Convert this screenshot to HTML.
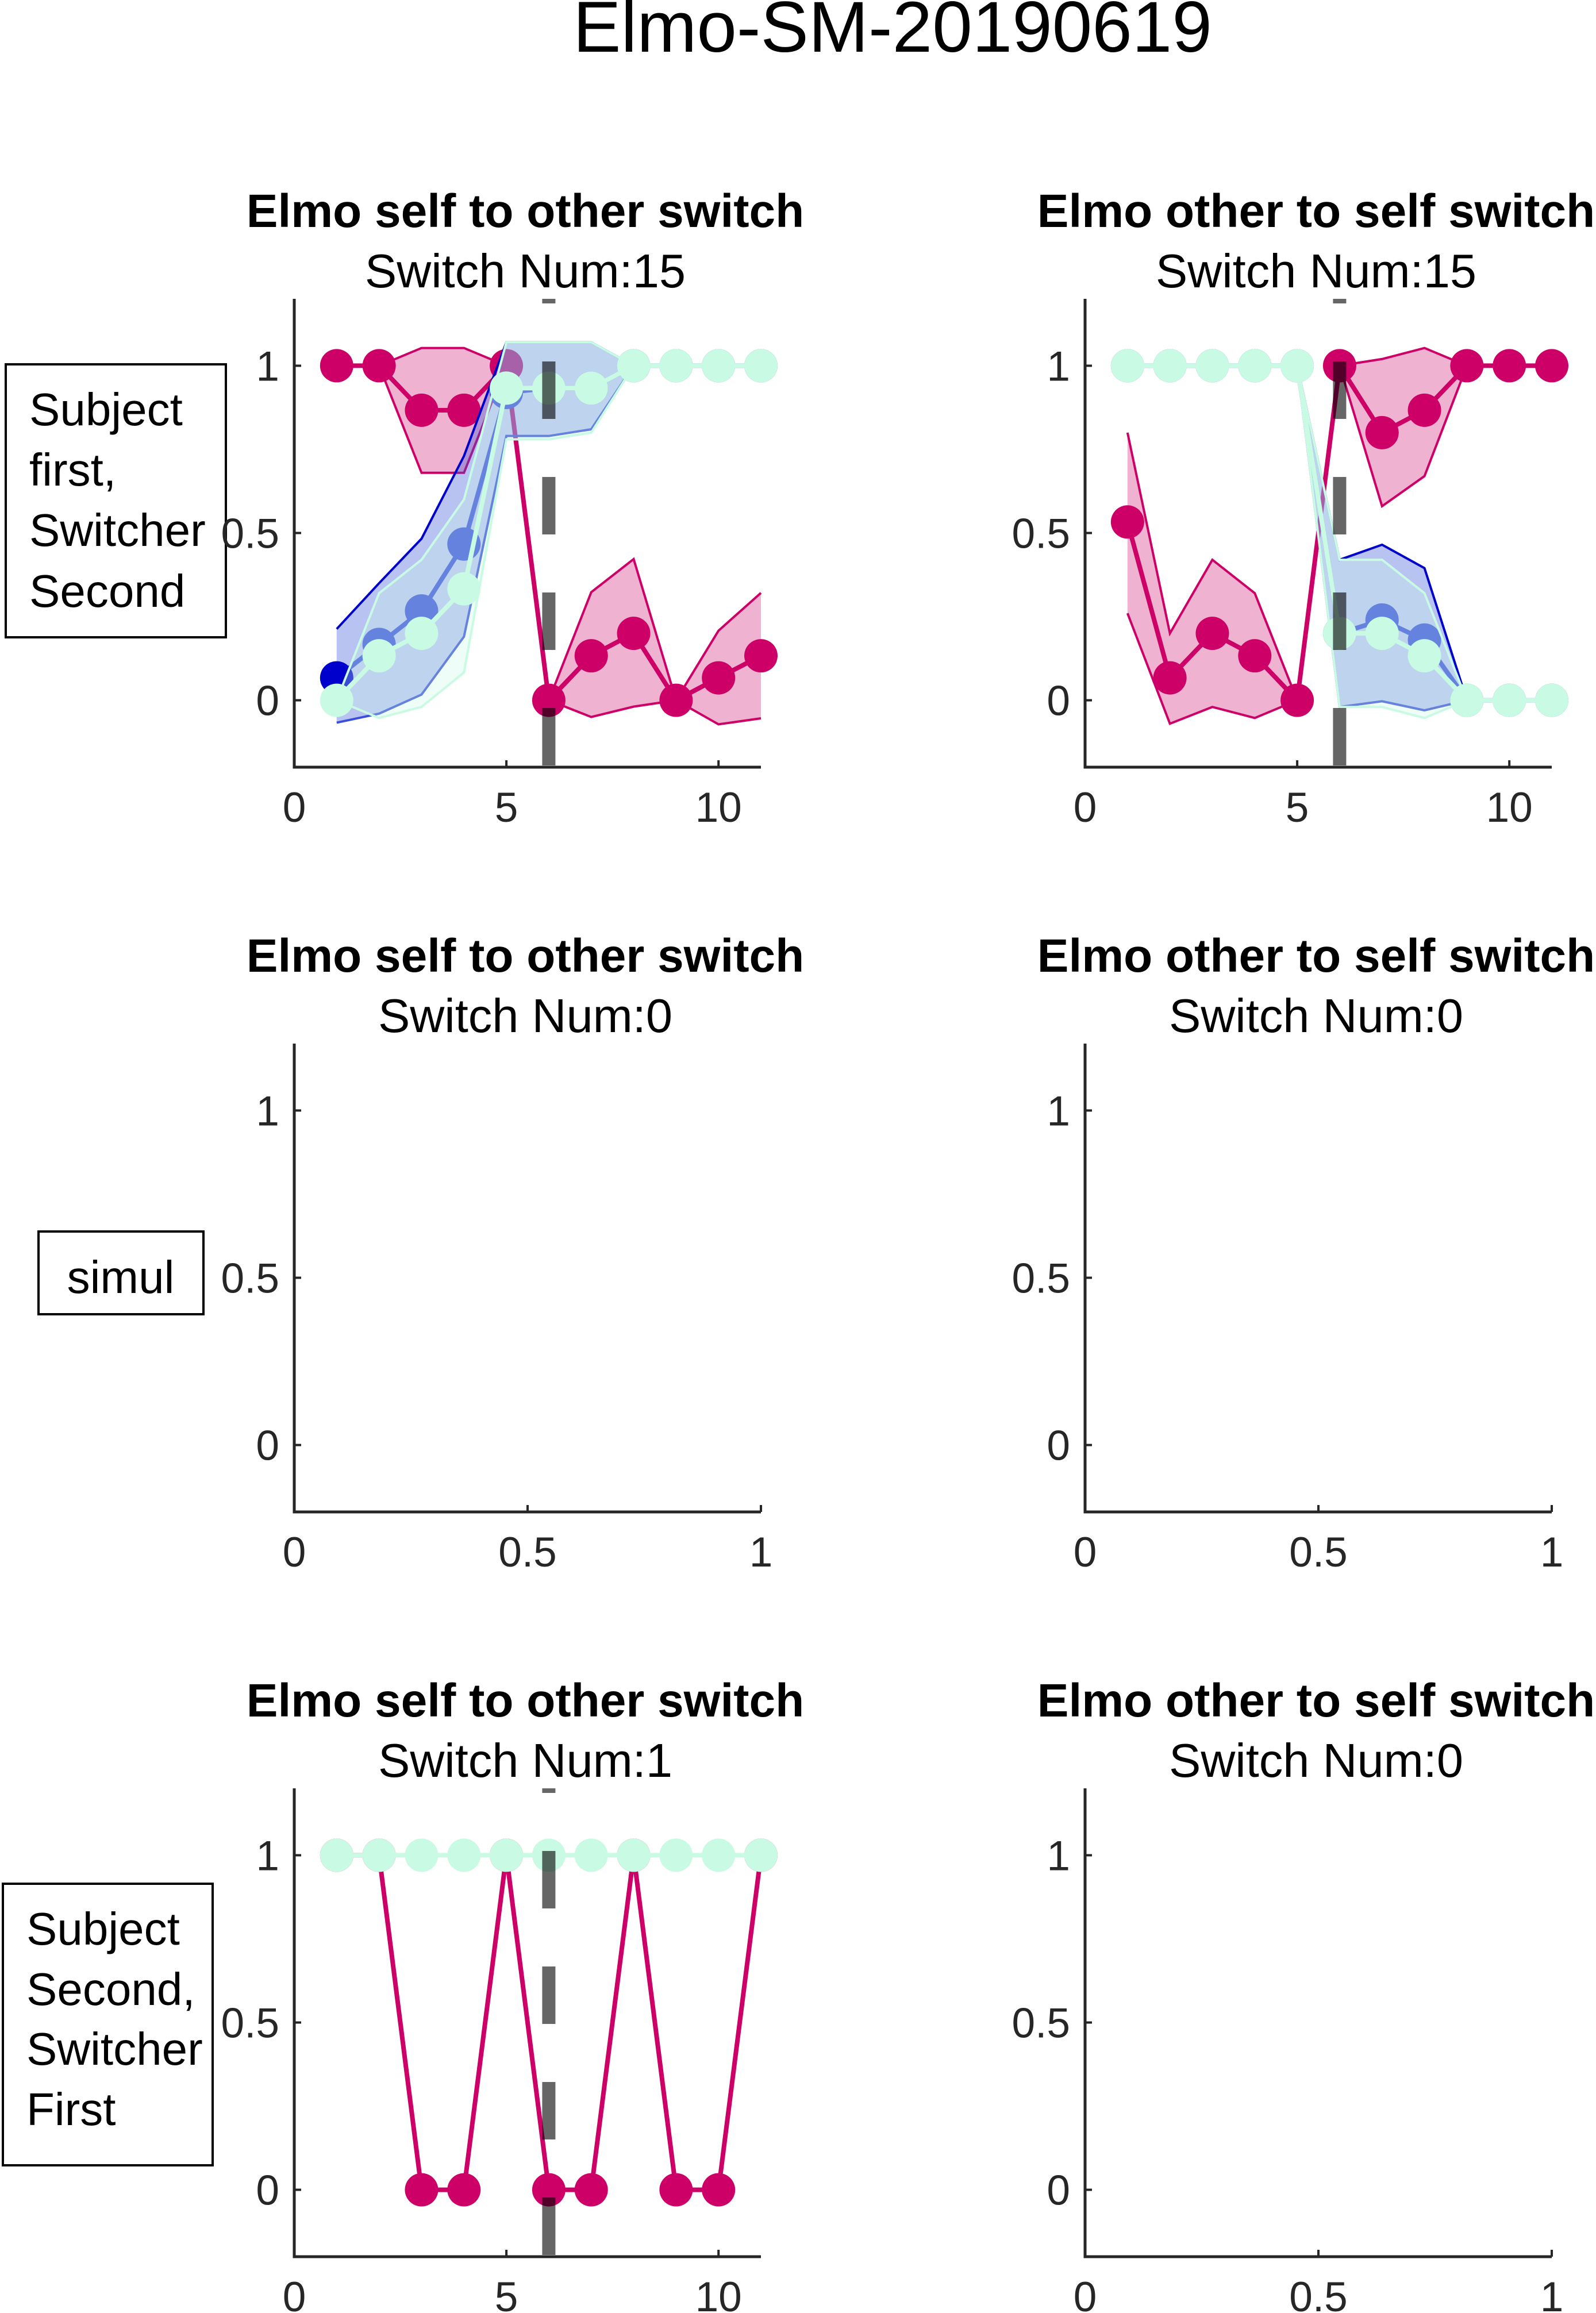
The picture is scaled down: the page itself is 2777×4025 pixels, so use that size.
<!DOCTYPE html>
<html><head><meta charset="utf-8"><style>
html,body{margin:0;padding:0;background:#fff;}
svg{display:block;font-family:"Liberation Sans",Arial,sans-serif;}
</style></head><body>
<svg id="fig" width="2777" height="4025" viewBox="0 0 2777 4025" xmlns="http://www.w3.org/2000/svg">
<text x="1553" y="90" font-size="125" text-anchor="middle" fill="#000">Elmo-SM-20190619</text>
<g>
<rect x="10" y="634" width="383" height="475" fill="#fff" stroke="#000" stroke-width="4"/>
<text font-size="80" fill="#000"><tspan x="51" y="740">Subject</tspan><tspan x="51" y="845">first,</tspan><tspan x="51" y="950">Switcher</tspan><tspan x="51" y="1056">Second</tspan></text>
</g>
<g>
<rect x="67" y="2143" width="287" height="144" fill="#fff" stroke="#000" stroke-width="4"/>
<text x="210" y="2250" font-size="80" text-anchor="middle" fill="#000">simul</text>
</g>
<g>
<rect x="5" y="3278" width="365" height="490" fill="#fff" stroke="#000" stroke-width="4"/>
<text font-size="80" fill="#000"><tspan x="46" y="3384">Subject</tspan><tspan x="46" y="3489">Second,</tspan><tspan x="46" y="3593">Switcher</tspan><tspan x="46" y="3698">First</tspan></text>
</g>
</svg>
<script>
// ---- data ----
const xs = [1,2,3,4,5,6,7,8,9,10,11];
const yTicks = [0, 0.5, 1];
const xTicksA = [0, 5, 10];
const xTicksB = [0, 0.5, 1];
const switchLine = 6;
// top-left
const tlPink = [1,1,0.867,0.867,1,0,0.133,0.2,0,0.067,0.133];
const tlPinkUp = [1,1,1.053,1.053,1,0,0.323,0.422,0,0.208,0.321];
const tlPinkLo = [1,1,0.68,0.68,1,0,-0.05,-0.019,0,-0.072,-0.054];
const tlBlue = [0.067,0.167,0.267,0.467,0.92,0.933,0.933,1,1,1,1];
const tlBlueUp = [0.213,0.35,0.483,0.73,1.07,1.07,1.07,1,1,1,1];
const tlBlueLo = [-0.067,-0.04,0.017,0.19,0.79,0.79,0.81,1,1,1,1];
const tlCyan = [0,0.133,0.2,0.333,0.933,0.933,0.933,1,1,1,1];
const tlCyanUp = [0,0.32,0.42,0.6,1.07,1.07,1.07,1,1,1,1];
const tlCyanLo = [0,-0.053,-0.02,0.083,0.78,0.78,0.8,1,1,1,1];
// top-right
const trPink = [0.533,0.067,0.2,0.133,0,1,0.8,0.867,1,1,1];
const trPinkUp = [0.8,0.2,0.42,0.32,0,1,1.02,1.053,1,1,1];
const trPinkLo = [0.26,-0.07,-0.02,-0.053,0,1,0.58,0.67,1,1,1];
const trBlue = [1,1,1,1,1,0.2,0.24,0.18,0,0,0];
const trBlueUp = [1,1,1,1,1,0.42,0.465,0.395,0,0,0];
const trBlueLo = [1,1,1,1,1,-0.02,-0.003,-0.03,0,0,0];
const trCyan = [1,1,1,1,1,0.2,0.2,0.133,0,0,0];
const trCyanUp = [1,1,1,1,1,0.42,0.42,0.32,0,0,0];
const trCyanLo = [1,1,1,1,1,-0.02,-0.02,-0.053,0,0,0];
// bottom-left
const blPink = [1,1,0,0,1,0,0,1,0,0,1];
const blCyan = [1,1,1,1,1,1,1,1,1,1,1];

const NS = "http://www.w3.org/2000/svg";
const svg = document.getElementById('fig');
const PINK = "#cc0066", BLUE = "#3c4fdc", DBLUE = "#0000cc", CYAN = "#c8fae4";
function mk(tag, attrs, parent){ const e = document.createElementNS(NS, tag); for (const k in attrs) e.setAttribute(k, attrs[k]); (parent||svg).appendChild(e); return e; }

function panel(name, left, top, xmax, xticks, title, sub, series, dash){
  const W = 812, H = 815, ymin = -0.2, ymax = 1.2;
  const sx = v => left + v / xmax * W;
  const sy = v => top + (ymax - v) / (ymax - ymin) * H;
  const g = mk('g', {});
  
  
  const t1 = mk('text', {x: left + W/2 - 4, y: top - 125, 'font-size': 82, 'font-weight': 'bold', 'text-anchor': 'middle', fill: '#000'}, g);
  t1.textContent = title;
  
  
  const t2 = mk('text', {x: left + W/2 - 4, y: top - 20, 'font-size': 83, 'text-anchor': 'middle', fill: '#000'}, g);
  t2.textContent = sub;
  
  
  const groups = series.map(s => {
    const sg = mk('g', {}, g);
    
    
    return sg;
  });
  function drawBand(s, sg){
    if (!s.up) return;
    let pts = xs.map((x,i) => sx(x) + ',' + sy(s.up[i]));
    pts = pts.concat(xs.map((x,i) => sx(x) + ',' + sy(s.lo[i])).reverse());
    const p = mk('polygon', {points: pts.join(' '), fill: s.fill, stroke: 'none'}, sg);
    
    
    const u = mk('polyline', {points: xs.map((x,i) => sx(x) + ',' + sy(s.up[i])).join(' '), fill: 'none', stroke: s.upStroke || s.color, 'stroke-width': 4}, sg);
    
    
    const l = mk('polyline', {points: xs.map((x,i) => sx(x) + ',' + sy(s.lo[i])).join(' '), fill: 'none', stroke: s.color, 'stroke-width': 4}, sg);
    
    
  }
  function drawLine(s, sg){
    const ln = mk('polyline', {points: xs.map((x,i) => sx(x) + ',' + sy(s.v[i])).join(' '), fill: 'none', stroke: s.color, 'stroke-width': 8, 'stroke-linejoin': 'round'}, sg);
    
    
    xs.forEach((x,i) => {
      const c = mk('circle', {cx: sx(x), cy: sy(s.v[i]), r: 29, fill: (i === 0 && s.firstColor) ? s.firstColor : s.color}, sg);
      
      
    });
  }
  // first series (pink) fully, then remaining bands, then remaining lines
  if (series.length) { drawBand(series[0], groups[0]); drawLine(series[0], groups[0]); }
  for (let k = 1; k < series.length; k++) drawBand(series[k], groups[k]);
  for (let k = 1; k < series.length; k++) drawLine(series[k], groups[k]);
  if (dash) {
    const d = mk('line', {x1: sx(switchLine), x2: sx(switchLine), y1: top, y2: top + H, stroke: 'rgba(0,0,0,0.6)', 'stroke-width': 23, 'stroke-dasharray': '100 101', 'stroke-dashoffset': 92}, g);
    
    
  }
  const ax = mk('path', {d: `M${left},${top} L${left},${top+H} L${left+W},${top+H}`, fill: 'none', stroke: '#262626', 'stroke-width': 5}, g);
  
  
  yTicks.forEach(v => {
    const tk = mk('line', {x1: left, x2: left + 12, y1: sy(v), y2: sy(v), stroke: '#262626', 'stroke-width': 4}, g);
    
    
    const tl = mk('text', {x: left - 26, y: sy(v) + 26, 'font-size': 73, 'text-anchor': 'end', fill: '#262626'}, g);
    tl.textContent = String(v);
    
    
  });
  xticks.forEach(v => {
    const tk = mk('line', {x1: sx(v), x2: sx(v), y1: top + H, y2: top + H - 12, stroke: '#262626', 'stroke-width': 4}, g);
    
    
    const tl = mk('text', {x: sx(v), y: top + H + 95, 'font-size': 73, 'text-anchor': 'middle', fill: '#262626'}, g);
    tl.textContent = String(v);
    
    
  });
}

const LP = 'rgba(204,0,102,0.3)', LB = 'rgba(60,90,220,0.36)', LC = 'rgba(200,250,228,0.3)';
panel('panel-self-to-other-row1', 512, 520, 11, xTicksA, 'Elmo self to other switch', 'Switch Num:15', [
  {name:'pink-series', v:tlPink, up:tlPinkUp, lo:tlPinkLo, color:PINK, fill:LP},
  {name:'blue-series', v:tlBlue, up:tlBlueUp, lo:tlBlueLo, color:BLUE, upStroke:DBLUE, fill:LB, firstColor:DBLUE},
  {name:'cyan-series', v:tlCyan, up:tlCyanUp, lo:tlCyanLo, color:CYAN, fill:LC}
], true);
panel('panel-other-to-self-row1', 1888, 520, 11, xTicksA, 'Elmo other to self switch', 'Switch Num:15', [
  {name:'pink-series', v:trPink, up:trPinkUp, lo:trPinkLo, color:PINK, fill:LP},
  {name:'blue-series', v:trBlue, up:trBlueUp, lo:trBlueLo, color:BLUE, upStroke:DBLUE, fill:LB},
  {name:'cyan-series', v:trCyan, up:trCyanUp, lo:trCyanLo, color:CYAN, fill:LC}
], true);
panel('panel-self-to-other-row2', 512, 1816, 1, xTicksB, 'Elmo self to other switch', 'Switch Num:0', [], false);
panel('panel-other-to-self-row2', 1888, 1816, 1, xTicksB, 'Elmo other to self switch', 'Switch Num:0', [], false);
panel('panel-self-to-other-row3', 512, 3112, 11, xTicksA, 'Elmo self to other switch', 'Switch Num:1', [
  {name:'pink-series', v:blPink, color:PINK},
  {name:'cyan-series', v:blCyan, color:CYAN}
], true);
panel('panel-other-to-self-row3', 1888, 3112, 1, xTicksB, 'Elmo other to self switch', 'Switch Num:0', [], false);
</script>
</body></html>
